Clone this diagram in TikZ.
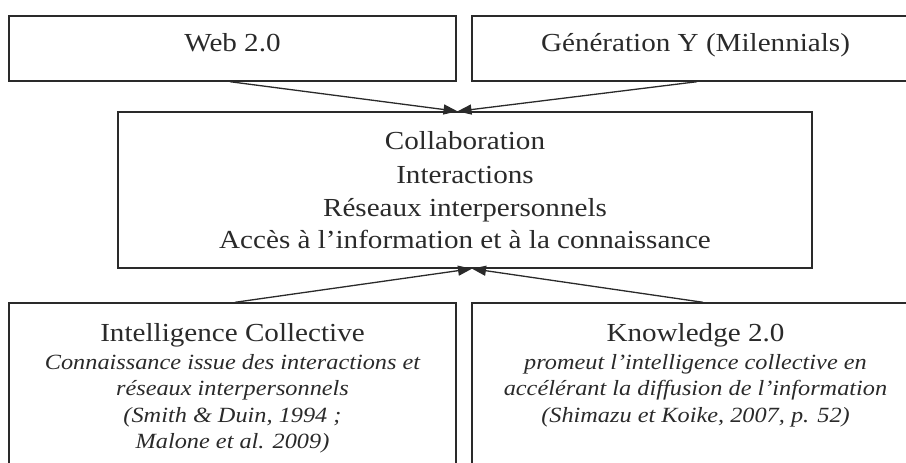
\documentclass[tikz,border=0pt]{standalone}
\usepackage{fontspec}
\setmainfont{Liberation Serif}[FakeStretch=1.12]
\usetikzlibrary{arrows.meta}
\definecolor{ink}{HTML}{2A2A2A}
\begin{document}
\begin{tikzpicture}[x=1pt,y=-1pt,
  box/.style={draw=ink,line width=1.4pt,minimum width=447pt,minimum height=65pt,inner sep=0pt},
  conn/.style={draw=ink,line width=1.3pt,-{Triangle[length=14pt,width=10pt]}},
  big/.style={text=ink,inner sep=0pt,anchor=base,font=\fontsize{26pt}{33pt}\selectfont},
  small/.style={text=ink,inner sep=0pt,anchor=base,font=\fontsize{21.7pt}{27pt}\selectfont\itshape}]
\useasboundingbox (0,0) rectangle (906,463);
\clip (0,0) rectangle (906,463);
% boxes
\node[box] (web) at (232.5,48.5) {};
\node[box] (gen) at (695.5,48.5) {};
\node[box,minimum width=694pt,minimum height=156pt] (mid) at (465,190) {};
\node[box,minimum height=220pt] (bl) at (232.5,413) {};
\node[box,minimum height=220pt] (br) at (695.5,413) {};
% texts
\node[big] (tweb) at (232.5,52) {Web 2.0};
\node[big] (tgen) at (695.5,52) {Génération Y (Milennials)};
\node[big] (m1) at (465,149) {Collaboration};
\node[big] (m2) at (465,183) {Interactions};
\node[big] (m3) at (465,216) {Réseaux interpersonnels};
\node[big] (m4) at (465,248) {Accès à l’information et à la connaissance};
\node[big] (l1) at (232.5,341) {Intelligence Collective};
\node[small] (l2) at (232.5,369) {Connaissance issue des interactions et};
\node[small] (l3) at (232.5,395) {réseaux interpersonnels};
\node[small] (l4) at (232.5,422) {(Smith \& Duin, 1994 ;};
\node[small] (l5) at (232.5,448) {Malone et al. 2009)};
\node[big] (r1) at (695.5,341) {Knowledge 2.0};
\node[small] (r2) at (695.5,369) {promeut l’intelligence collective en};
\node[small] (r3) at (695.5,395) {accélérant la diffusion de l’information};
\node[small] (r4) at (695.5,422) {(Shimazu et Koike, 2007, p. 52)};
% connectors
\coordinate (tt) at ([xshift=-7.5pt]mid.north);
\coordinate (tb) at ([xshift=7pt]mid.south);
\draw[conn] ([xshift=-2.5pt]web.south) -- (tt);
\draw[conn] ([xshift=1.5pt]gen.south) -- (tt);
\draw[conn] ([xshift=2.5pt]bl.north) -- (tb);
\draw[conn] ([xshift=7.5pt]br.north) -- (tb);
\end{tikzpicture}
\end{document}
